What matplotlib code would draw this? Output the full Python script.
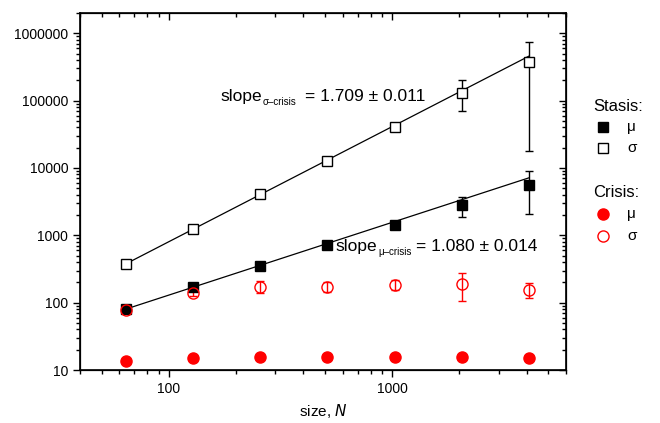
import matplotlib
matplotlib.use("Agg")
import matplotlib.pyplot as plt
import numpy as np
from matplotlib.lines import Line2D

plt.rcParams['font.family'] = ['Liberation Sans', 'DejaVu Sans']

sizes = [64, 128, 256, 512, 1024, 2048, 4096]

stasis_sigma = [380, 1250, 4050, 12500, 40000, 130000, 380000]
stasis_sigma_lo = [20, 60, 250, 800, 5000, 60000, 362000]
stasis_sigma_hi = [20, 60, 250, 800, 5000, 70000, 370000]

stasis_mu = [80, 172, 355, 710, 1420, 2800, 5500]
stasis_mu_lo = [4, 12, 20, 40, 170, 950, 3400]
stasis_mu_hi = [4, 12, 20, 40, 170, 900, 3500]

crisis_mu = [13.5, 15.2, 15.6, 15.7, 15.6, 15.8, 15.2]

crisis_sigma = [78, 137, 172, 172, 180, 190, 156]
crisis_sigma_lo = [6, 10, 32, 30, 28, 85, 40]
crisis_sigma_hi = [6, 10, 35, 33, 35, 90, 40]

fit_sigma = (375.0, 1.709)
fit_mu = (80.0, 1.080)

fig = plt.figure(figsize=(6.6, 4.23), dpi=100)
ax = fig.add_axes([80/660, 53/423, 486/660, 357/423])

xs = np.array(sizes, dtype=float)
ax.plot(xs, fit_sigma[0]*(xs/xs[0])**fit_sigma[1], color='black', lw=0.9, zorder=2)
ax.plot(xs, fit_mu[0]*(xs/xs[0])**fit_mu[1], color='black', lw=0.9, zorder=2)

ebkw = dict(elinewidth=1.0, capsize=3.2, capthick=1.0, ls='none')
ax.errorbar(sizes, stasis_sigma, yerr=[stasis_sigma_lo, stasis_sigma_hi], fmt='s',
            mfc='white', mec='black', ecolor='black', ms=6.5, mew=1.0, zorder=3, **ebkw)
ax.errorbar(sizes, stasis_mu, yerr=[stasis_mu_lo, stasis_mu_hi], fmt='s',
            mfc='black', mec='black', ecolor='black', ms=6.5, zorder=3, **ebkw)
ax.errorbar(sizes, crisis_sigma, yerr=[crisis_sigma_lo, crisis_sigma_hi], fmt='o',
            mfc='none', mec='red', ecolor='red', ms=8, mew=1.0, zorder=3, **ebkw)
ax.plot(sizes, crisis_mu, 'o', color='red', ms=8, ls='none', zorder=3)

ax.set_xscale('log')
ax.set_yscale('log')
ax.set_xlim(40, 6000)
ax.set_ylim(10, 2.0e6)
ax.set_xticks([100, 1000])
ax.set_xticklabels(['100', '1000'])
yt = [10, 100, 1000, 10000, 100000, 1000000]
ax.set_yticks(yt)
ax.set_yticklabels([str(v) for v in yt])
ax.tick_params(which='both', direction='out', labelsize=10, width=1.0)
ax.tick_params(which='major', length=5)
ax.tick_params(which='minor', length=3)
for s in ax.spines.values():
    s.set_linewidth(1.2)

ax.set_xlabel('size, $\\mathit{N}$', fontsize=11)
ax.xaxis.set_label_coords(0.5, -0.09)

# mirrored inward ticks on top/right
axt = ax.twiny()
axt.set_xscale('log'); axt.set_xlim(ax.get_xlim())
axt.set_xticks([100, 1000])
axt.tick_params(which='both', direction='in', labeltop=False, width=1.0)
axt.tick_params(which='major', length=5)
axt.tick_params(which='minor', length=3)
axr = ax.twinx()
axr.set_yscale('log'); axr.set_ylim(ax.get_ylim())
axr.set_yticks(yt)
axr.tick_params(which='both', direction='in', labelright=False, width=1.0)
axr.tick_params(which='major', length=5)
axr.tick_params(which='minor', length=3)

def px(x, y):
    return x/660, 1 - y/423

# annotations
fig.text(*px(220, 101), 'slope', fontsize=12.5, ha='left', va='baseline')
fig.text(*px(263, 105), 'σ\u2013crisis', fontsize=7, ha='left', va='baseline')
fig.text(*px(305, 101), '= 1.709 ± 0.011', fontsize=12.5, ha='left', va='baseline')

fig.text(*px(335, 251), 'slope', fontsize=12.5, ha='left', va='baseline')
fig.text(*px(378, 255), 'μ\u2013crisis', fontsize=7, ha='left', va='baseline')
fig.text(*px(416, 251), '= 1.080 ± 0.014', fontsize=12.5, ha='left', va='baseline')

# legend
fig.text(*px(593, 111), 'Stasis:', fontsize=12, ha='left', va='baseline')
fig.text(*px(593, 197), 'Crisis:', fontsize=12, ha='left', va='baseline')
entries = [
    (127, 's', 'black', 'black', 'μ'),
    (148, 's', 'white', 'black', 'σ'),
    (214, 'o', 'red', 'red', 'μ'),
    (236, 'o', 'white', 'red', 'σ'),
]
for y, m, fc, ec, lab in entries:
    fig.add_artist(Line2D([603/660], [1 - y/423], marker=m, mfc=fc, mec=ec,
                          ms=6.5 if m == 's' else 8, mew=1.0, ls='none',
                          transform=fig.transFigure))
    fig.text(*px(627, y), lab, fontsize=11, ha='left', va='center')

fig.savefig('out.png', dpi=100)
